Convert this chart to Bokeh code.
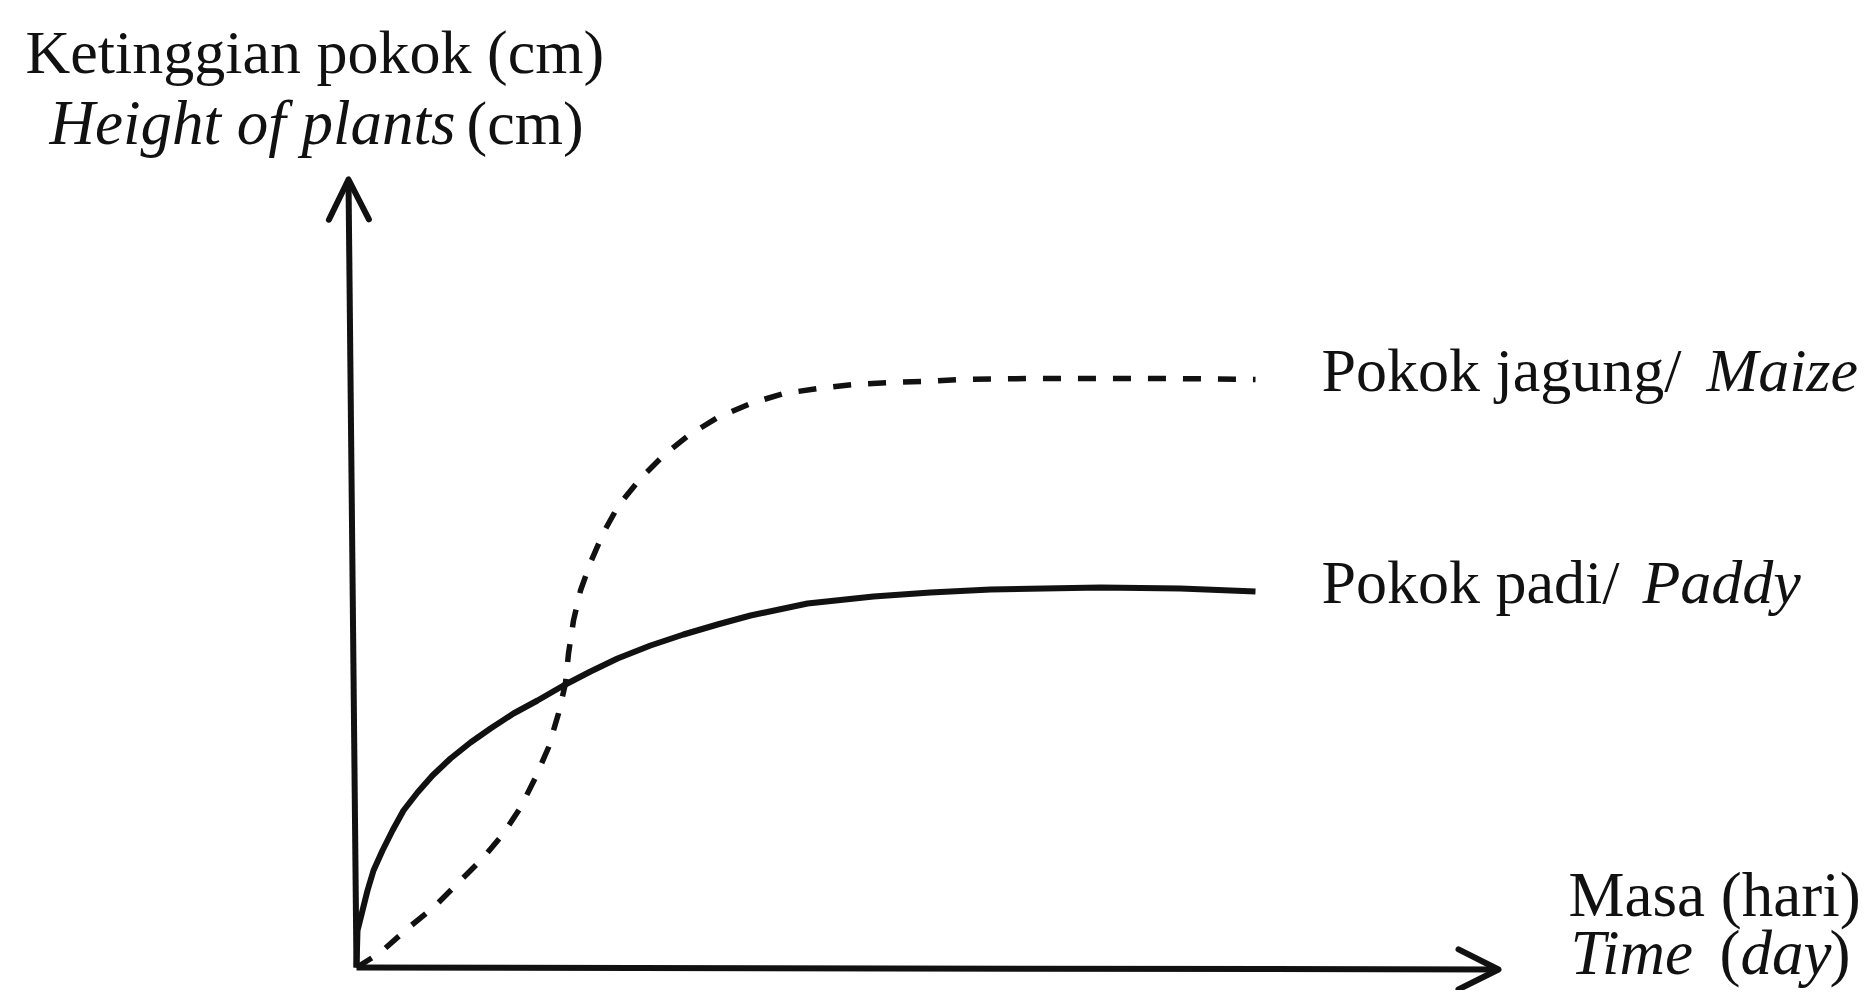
from bokeh.plotting import figure
from bokeh.models import Range1d, Arrow, OpenHead
from bokeh.core.properties import value
from bokeh.embed import file_html
from bokeh.resources import INLINE

# ---------------- data (days, cm; arbitrary sketch units) ----------------
paddy_day = [0.0, 0.1, 0.6, 1.1, 1.7, 2.6, 3.6, 4.7, 6.1, 7.6, 9.4, 11.4, 13.4,
             15.7, 18.1, 20.7, 23.4, 26.1, 29.4, 32.7, 36.1, 39.4, 45.1, 51.7,
             57.4, 63.4, 74.4, 82.4, 89.9]
paddy_cm = [0.0, 3.7, 5.7, 7.7, 9.7, 11.7, 13.7, 15.7, 17.5, 19.2, 20.9, 22.5,
            23.9, 25.4, 26.7, 28.2, 29.6, 30.9, 32.2, 33.3, 34.3, 35.2, 36.4,
            37.1, 37.5, 37.8, 38.0, 37.9, 37.6]

maize_day = [0.0, 2.4, 5.1, 7.7, 10.2, 12.7, 14.7, 16.4, 17.9, 19.2, 20.2, 20.9,
             21.2, 21.7, 22.4, 23.4, 24.7, 26.2, 28.4, 30.7, 33.2, 36.1, 39.4,
             42.7, 46.2, 49.7, 53.4, 56.7, 60.4, 67.6, 74.5, 81.4, 89.9]
maize_cm = [0.0, 1.5, 3.9, 6.0, 8.5, 11.0, 13.4, 16.0, 19.0, 22.0, 25.4, 28.4,
            31.4, 34.7, 37.7, 40.5, 43.5, 46.2, 48.9, 51.2, 53.2, 55.0, 56.4,
            57.4, 57.9, 58.3, 58.5, 58.6, 58.8, 58.9, 58.9, 58.9, 58.8]

# axis extents (arrow tips)
x_axis_end = [114.2, -0.2]
y_axis_end = [-0.8, 78.8]

y_title_1 = "Ketinggian pokok (cm)"
y_title_2_it = "Height of plants"
y_title_2_rm = "(cm)"
maize_label_rm = "Pokok jagung/"
maize_label_it = "Maize"
paddy_label_rm = "Pokok padi/"
paddy_label_it = "Paddy"
x_title_1 = "Masa (hari)"
x_title_2_it = "Time"
x_title_2_open = "("
x_title_2_day = "day"
x_title_2_close = ")"

# ---------------- figure ----------------
W, H = 1870, 990
X0, Y1 = -35.6, 96.7
p = figure(width=W, height=H, output_backend="svg", toolbar_location=None,
           x_range=Range1d(X0, X0 + W / 10.0),
           y_range=Range1d(Y1 - H / 10.0, Y1),
           x_axis_location=None, y_axis_location=None,
           min_border=0, tools="")
p.title.visible = False
p.grid.visible = False
p.outline_line_color = None
p.background_fill_color = "white"
p.border_fill_color = "white"

INK = "#111111"
LW = 6

# axes as arrows
for (xe, ye) in (x_axis_end, y_axis_end):
    p.add_layout(Arrow(end=OpenHead(size=40, line_width=LW, line_color=INK,
                                    line_join="round", line_cap="round"),
                       x_start=0, y_start=0, x_end=xe, y_end=ye,
                       line_width=LW, line_color=INK))

# curves
p.line(paddy_day, paddy_cm, line_width=LW, line_color=INK, line_join="round")
p.line(maize_day, maize_cm, line_width=5.5, line_color=INK, line_dash="18 17",
       line_join="round")

FONT = value("Liberation Serif")


def label(x, y, txt, size, italic=False):
    p.text(x=[x], y=[y], text=[txt], text_font=FONT, text_font_size=size,
           text_font_style="italic" if italic else "normal",
           text_color=INK, text_baseline="alphabetic", text_align="left")


# y-axis title
label(-33.1, 91.6, y_title_1, "62px")
label(-30.7, 84.5, y_title_2_it, "63px", italic=True)
label(11.0, 84.5, y_title_2_rm, "62px")

# series labels
label(96.5, 59.8, maize_label_rm, "62px")
label(135.0, 59.8, maize_label_it, "62px", italic=True)
label(96.5, 38.6, paddy_label_rm, "62px")
label(128.6, 38.6, paddy_label_it, "62px", italic=True)

# x-axis title
label(121.2, 7.3, x_title_1, "63px")
label(121.4, 1.5, x_title_2_it, "63px", italic=True)
label(136.3, 1.5, x_title_2_open, "63px")
label(138.4, 1.5, x_title_2_day, "63px", italic=True)
label(147.3, 1.5, x_title_2_close, "63px")

open("out.html", "w").write(file_html(p, INLINE))
